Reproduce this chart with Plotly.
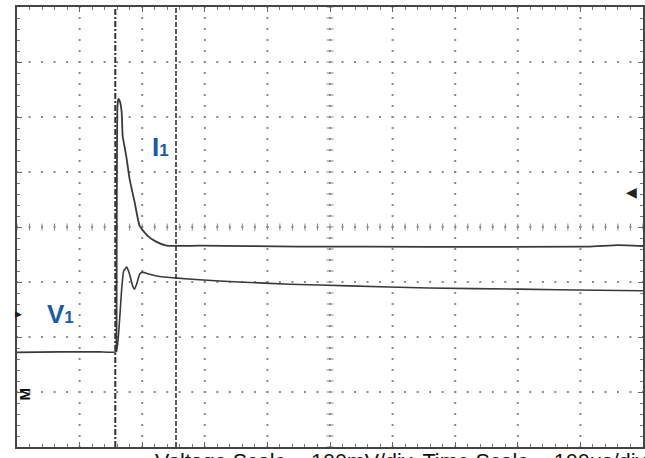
import numpy as np
import plotly.graph_objects as go

# Screen is 10 horizontal x 8 vertical divisions; values are in divisions.
# Channel 1 voltage (V1)
v1_t = [0.000, 0.685, 1.322, 1.576, 1.608, 1.640, 1.672, 1.704, 1.752, 1.799,
        1.847, 1.879, 1.911, 1.959, 2.006, 2.118, 2.229, 2.564, 2.914, 3.551,
        4.347, 5.303, 6.576, 8.010, 9.283, 10.000]
v1_y = [-2.28, -2.27, -2.27, -2.27, -2.13, -1.67, -1.13, -0.80, -0.73, -0.86,
        -1.07, -1.13, -1.04, -0.86, -0.82, -0.86, -0.89, -0.93, -0.96, -1.00,
        -1.04, -1.07, -1.11, -1.13, -1.15, -1.16]

# Channel 2 current (I1)
i1_t = [1.590, 1.605, 1.620, 1.645, 1.672, 1.688, 1.720, 1.752, 1.799, 1.879,
        1.959, 2.086, 2.229, 2.389, 2.910, 4.510, 6.580, 9.120, 9.600, 10.000]
i1_y = [-2.27, 2.20, 2.33, 2.28, 2.09, 1.65, 1.45, 1.24, 0.87, 0.45,
        0.02, -0.16, -0.27, -0.34, -0.34, -0.355, -0.36, -0.355, -0.33, -0.345]

# Cursor positions (divisions)
cursor_t = [1.57, 2.54]

caption = "Voltage Scale = 100mV/div, Time Scale = 100μs/div"

X_DIV, Y_DIV = 10, 8
trace_color = "#3a3a3a"
dot_color = "#8a8a8a"
label_blue = "#1a5ba6"

fig = go.Figure()

# Graticule dots: every 0.2 division along each major grid line
sub = np.round(np.arange(0, X_DIV + 1e-9, 0.2), 3)
sub_y = np.round(np.arange(-Y_DIV / 2, Y_DIV / 2 + 1e-9, 0.2), 3)
gx, gy = [], []
for yv in range(-Y_DIV // 2 + 1, Y_DIV // 2):
    gx.extend(sub); gy.extend([yv] * len(sub))
for xv in range(1, X_DIV):
    gx.extend([xv] * len(sub_y)); gy.extend(sub_y)
fig.add_trace(go.Scatter(x=gx, y=gy, mode="markers", hoverinfo="skip",
                         marker=dict(symbol="square", size=2, color=dot_color,
                                     line=dict(width=0)),
                         showlegend=False))

# Center axis tick marks
fig.add_trace(go.Scatter(x=sub, y=[0] * len(sub), mode="markers", hoverinfo="skip",
                         marker=dict(symbol="line-ns", size=5,
                                     line=dict(width=1, color=dot_color)),
                         showlegend=False))
fig.add_trace(go.Scatter(x=[X_DIV / 2] * len(sub_y), y=sub_y, mode="markers",
                         hoverinfo="skip",
                         marker=dict(symbol="line-ew", size=5,
                                     line=dict(width=1, color=dot_color)),
                         showlegend=False))

# Cursors
for i, ct in enumerate(cursor_t):
    fig.add_vline(x=ct, line=dict(color="#333333", width=2 if i == 0 else 1.6,
                                  dash="6px,2px,2px,2px" if i == 0 else "5px,2px"))

# Waveforms
fig.add_trace(go.Scatter(x=v1_t, y=v1_y, mode="lines", name="V1",
                         line=dict(color=trace_color, width=1.6, shape="spline",
                                   smoothing=0.4),
                         showlegend=False))
fig.add_trace(go.Scatter(x=i1_t, y=i1_y, mode="lines", name="I1",
                         line=dict(color=trace_color, width=1.8, shape="spline",
                                   smoothing=0.4),
                         showlegend=False))

# Trace labels
lab_font = dict(family="Liberation Sans, Arial, sans-serif", size=26, color=label_blue)
fig.add_annotation(x=2.29, y=1.45, text="<b>I<span style='font-size:17px'>1</span></b>",
                   showarrow=False, font=lab_font)
fig.add_annotation(x=0.70, y=-1.58, text="<b>V<span style='font-size:17px'>1</span></b>",
                   showarrow=False, font=lab_font)

# Level markers
fig.add_annotation(x=0.993, xref="paper", y=0.65, text="◀", showarrow=False,
                   font=dict(size=14, color="#222222"))
fig.add_annotation(x=-0.006, xref="paper", y=-1.58, text="▶", showarrow=False,
                   font=dict(size=9, color="#222222"))
fig.add_annotation(x=-0.005, xref="paper", y=-3.04, text="<b>M</b>", textangle=-90,
                   showarrow=False,
                   font=dict(family="Liberation Sans, Arial", size=15, color="#111111"))

# Caption along the bottom edge
fig.add_annotation(x=2.166, xref="x", y=-0.034, yref="paper", xanchor="left",
                   yanchor="middle", text=caption, showarrow=False,
                   font=dict(family="Liberation Sans, Arial, sans-serif", size=21.5,
                             color="#111111"))

axis_common = dict(showgrid=False, zeroline=False, showticklabels=False,
                   showline=True, linecolor="#444444", linewidth=1.5, mirror="allticks",
                   ticks="inside", ticklen=5, tickwidth=1, tickcolor="#666666")
fig.update_xaxes(range=[0, X_DIV], dtick=1, tick0=0,
                 minor=dict(dtick=0.2, ticks="inside", ticklen=3, tickcolor="#777777"),
                 **axis_common)
fig.update_yaxes(range=[-Y_DIV / 2, Y_DIV / 2], dtick=1, tick0=0,
                 minor=dict(dtick=0.2, ticks="inside", ticklen=3, tickcolor="#777777"),
                 **axis_common)

fig.update_layout(width=645, height=458, margin=dict(l=17, r=0, t=7, b=11),
                  plot_bgcolor="white", paper_bgcolor="white")

fig.write_html("out.html")
